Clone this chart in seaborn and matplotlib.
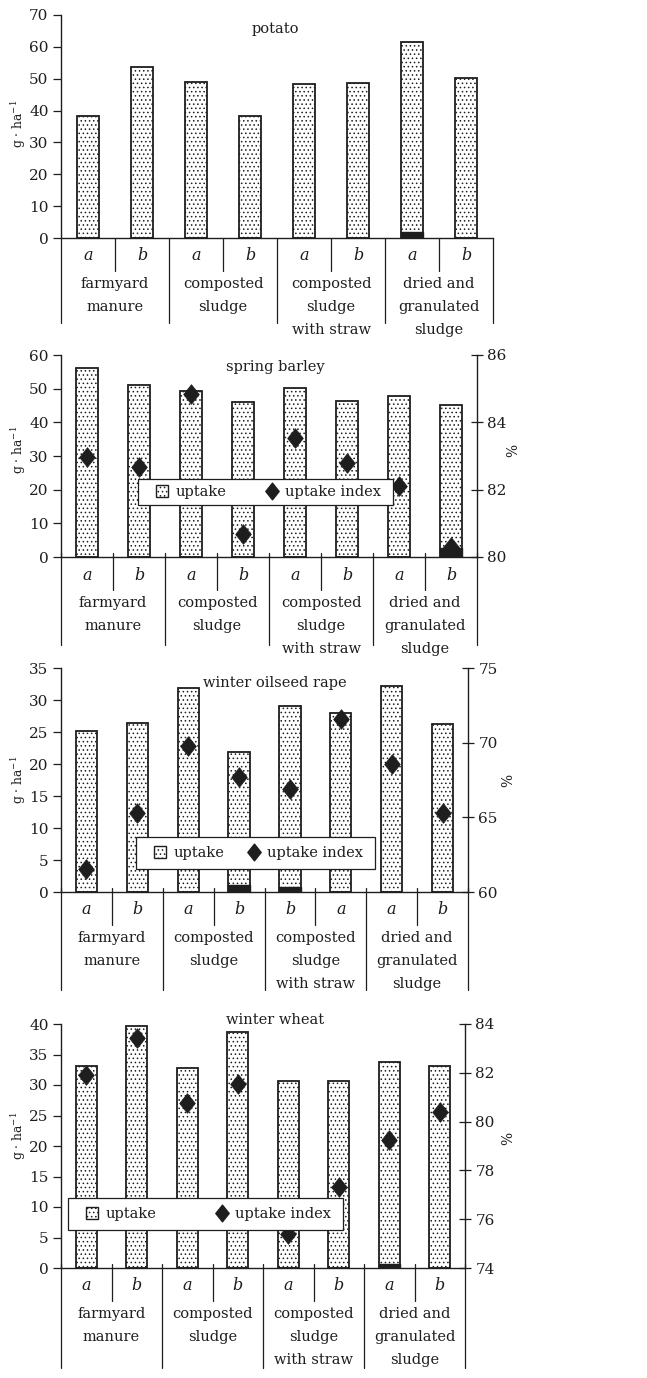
import numpy as np
import pandas as pd
import matplotlib
matplotlib.use("Agg")
import matplotlib.pyplot as plt
import matplotlib.transforms as mtransforms
from matplotlib.patches import Patch, Rectangle
from matplotlib.lines import Line2D
from matplotlib.path import Path
import seaborn as sns

# ---- data -------------------------------------------------------------
groups = ["farmyard\nmanure", "composted\nsludge",
          "composted\nsludge\nwith straw", "dried and\ngranulated\nsludge"]
sub_std = ["a", "b", "a", "b", "a", "b", "a", "b"]
sub_rape = ["a", "b", "a", "b", "b", "a", "a", "b"]

potato_uptake = [38.3, 53.6, 49.1, 38.3, 48.3, 48.7, 61.4, 50.1]
potato_dark = [0, 0, 0, 0, 0, 0, 1.8, 0]

barley_uptake = [56.1, 51.2, 49.2, 46.0, 50.2, 46.4, 47.7, 45.2]
barley_dark = [0, 0, 0, 0, 0, 0, 0, 2.8]
barley_index = [82.96, 82.68, 84.83, 80.67, 83.52, 82.78, 82.11, 80.30]

rape_uptake = [25.2, 26.4, 31.8, 21.9, 29.1, 27.9, 32.2, 26.2]
rape_dark = [0, 0, 0, 1.1, 0.8, 0, 0, 0]
rape_index = [61.53, 65.27, 69.76, 67.67, 66.93, 71.60, 68.60, 65.27]

wheat_uptake = [33.1, 39.7, 32.8, 38.7, 30.7, 30.7, 33.7, 33.1]
wheat_dark = [0, 0, 0, 0, 0, 0, 0.7, 0]
wheat_index = [81.92, 83.43, 80.77, 81.55, 75.41, 77.32, 79.23, 80.41]

# ---- style ------------------------------------------------------------
sns.set_style("ticks")
plt.rcParams["font.family"] = ["DejaVu Serif"]
plt.rcParams["mathtext.fontset"] = "dejavuserif"
plt.rcParams["hatch.color"] = "#808080"
plt.rcParams["hatch.linewidth"] = 0.6
INK = "#1e1e1e"
HATCH = "...."
W, H = 647, 1378

# slightly elongated diamond marker
DIAMOND = Path([(0, 0.5), (0.4, 0), (0, -0.5), (-0.4, 0), (0, 0.5)],
               [Path.MOVETO, Path.LINETO, Path.LINETO, Path.LINETO, Path.CLOSEPOLY])

fig = plt.figure(figsize=(W / 100, H / 100), dpi=100)


def axes_px(left, top, right, bottom):
    return fig.add_axes([left / W, 1 - bottom / H, (right - left) / W, (bottom - top) / H])


def draw_panel(box, title, title_y, uptake, dark, ylim, yticks, subs,
               index=None, ilim=None, iticks=None, legend_box=None,
               group_drop=90, ylab_y=None, pct_xy=None):
    left, top, right, bottom = box
    h = bottom - top
    w = right - left
    ax = axes_px(*box)
    slots = np.arange(len(uptake))
    df = pd.DataFrame({"slot": slots, "uptake": uptake, "dark": dark})
    sns.barplot(data=df, x="slot", y="uptake", ax=ax, width=0.42, color="white",
                saturation=1, edgecolor=INK, linewidth=1.3, hatch=HATCH,
                errorbar=None, zorder=2)
    sns.barplot(data=df, x="slot", y="dark", ax=ax, width=0.42, color=INK,
                saturation=1, edgecolor=INK, linewidth=1.0,
                errorbar=None, zorder=3)
    ax.set_xlim(-0.5, len(uptake) - 0.5)
    ax.set_ylim(*ylim)
    ax.set_yticks(yticks)
    ax.set_xlabel("")
    ax.set_ylabel("")
    ax.tick_params(axis="x", bottom=False, labelbottom=False)
    ax.tick_params(axis="y", direction="out", length=6, width=0.9,
                   labelsize=11, color=INK, labelcolor=INK, pad=3)
    for s in ("top", "right"):
        ax.spines[s].set_visible(False)
    for s in ("left", "bottom"):
        ax.spines[s].set_linewidth(1.0)
        ax.spines[s].set_color(INK)

    # category table under the axis
    tr = mtransforms.blended_transform_factory(ax.transData, ax.transAxes)
    start = 4 / h if index is not None else 0
    for k in range(len(uptake) + 1):
        x = k - 0.5
        drop = group_drop if k % 2 == 0 else 33
        ax.plot([x, x], [start, -drop / h], transform=tr, color=INK,
                lw=0.9, clip_on=False)
    for k, s in enumerate(subs):
        ax.text(k, -18 / h, s, transform=tr, ha="center", va="center",
                fontsize=11.5, style="italic", color=INK)
    for g, name in enumerate(groups):
        for j, line in enumerate(name.split("\n")):
            ax.text(2 * g + 0.5, -(46 + 23 * j) / h, line, transform=tr,
                    ha="center", va="center", fontsize=10.5, color=INK)

    fig.text(275 / W, 1 - title_y / H, title, ha="center", va="center",
             fontsize=10.5, color=INK)
    fig.text(19 / W, 1 - ylab_y / H, "g · ha$^{-1}$", rotation=90,
             ha="center", va="center", fontsize=8.8, color=INK)

    if index is not None:
        ax2 = ax.twinx()
        sns.scatterplot(x=slots, y=index, ax=ax2, marker=DIAMOND, s=200,
                        color=INK, edgecolor=INK, linewidth=0.5,
                        legend=False, zorder=4)
        ax2.set_xlim(-0.5, len(uptake) - 0.5)
        ax2.set_ylim(*ilim)
        ax2.set_yticks(iticks)
        ax2.set_ylabel("")
        ax2.tick_params(axis="y", direction="inout", length=9, width=0.9,
                        labelsize=11, color=INK, labelcolor=INK, pad=3)
        for s in ("top", "left", "bottom"):
            ax2.spines[s].set_visible(False)
        ax2.spines["right"].set_linewidth(1.0)
        ax2.spines["right"].set_color(INK)
        fig.text(pct_xy[0] / W, 1 - pct_xy[1] / H, "%", rotation=90,
                 ha="center", va="center", fontsize=10, color=INK)

        # legend: a plain white box with the two entries spread inside it
        lx0, ly0, lx1, ly1 = legend_box
        frame = Rectangle(((lx0 - left) / w, (bottom - ly1) / h),
                          (lx1 - lx0) / w, (ly1 - ly0) / h,
                          transform=ax2.transAxes, facecolor="white",
                          edgecolor=INK, linewidth=0.9, zorder=8,
                          clip_on=False)
        ax2.add_patch(frame)
        handles = [
            Patch(facecolor="white", edgecolor=INK, hatch=HATCH, linewidth=1.0,
                  label="uptake"),
            Line2D([], [], marker=DIAMOND, color=INK, linestyle="none",
                   markersize=12, label="uptake index"),
        ]
        bb = ((lx0 + 18 - left) / w, (bottom - ly1) / h,
              (lx1 - lx0 - 30) / w, (ly1 - ly0) / h)
        leg = ax2.legend(handles=handles, ncol=2, loc="center",
                         bbox_to_anchor=bb, mode="expand", frameon=False,
                         fontsize=10.5, handlelength=0.85, handleheight=0.85,
                         handletextpad=0.5, borderaxespad=0, borderpad=0,
                         columnspacing=1.0)
        for t in leg.get_texts():
            t.set_color(INK)
        leg.set_zorder(10)
    return ax


draw_panel((61, 15, 493, 238), "potato", 29, potato_uptake, potato_dark,
           (0, 70), range(0, 71, 10), sub_std, group_drop=85, ylab_y=124)

draw_panel((61, 355, 477, 557), "spring barley", 367, barley_uptake, barley_dark,
           (0, 60), range(0, 61, 10), sub_std, index=barley_index,
           ilim=(80, 86), iticks=range(80, 87, 2),
           legend_box=(138, 479, 393, 505), group_drop=88,
           ylab_y=450, pct_xy=(513, 450))

draw_panel((61, 668, 468, 892), "winter oilseed rape", 683, rape_uptake, rape_dark,
           (0, 35), range(0, 36, 5), sub_rape, index=rape_index,
           ilim=(60, 75), iticks=range(60, 76, 5),
           legend_box=(136, 837, 375, 869), group_drop=98,
           ylab_y=780, pct_xy=(508, 780))

draw_panel((61, 1024, 465, 1268), "winter wheat", 1020, wheat_uptake, wheat_dark,
           (0, 40), range(0, 41, 5), sub_std, index=wheat_index,
           ilim=(74, 84), iticks=range(74, 85, 2),
           legend_box=(68, 1198, 343, 1230), group_drop=100,
           ylab_y=1136, pct_xy=(508, 1138))

fig.savefig("out.png", dpi=100, facecolor="white")
